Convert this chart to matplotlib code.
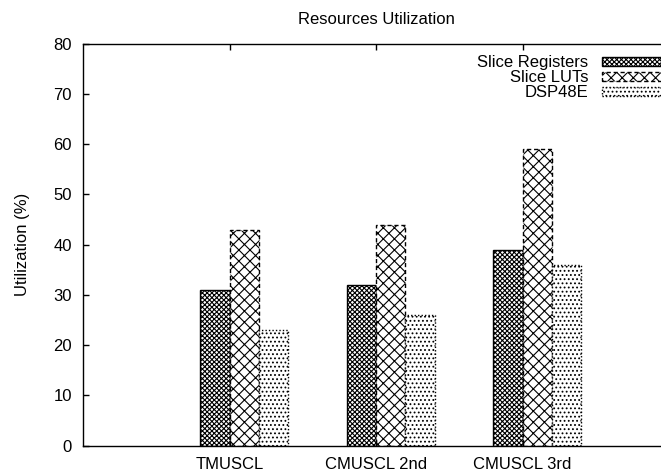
import numpy as np
import matplotlib
matplotlib.use("Agg")
import matplotlib.pyplot as plt

plt.rcParams['font.family'] = ['Liberation Sans', 'DejaVu Sans']
plt.rcParams['hatch.linewidth'] = 0.8

# values
categories = ["TMUSCL", "CMUSCL 2nd", "CMUSCL 3rd"]
series_names = ["Slice Registers", "Slice LUTs", "DSP48E"]
slice_registers = [31, 32, 39]
slice_luts = [43, 44, 59]
dsp48e = [23, 26, 36]

# gnuplot-ish fill patterns
hatches = ["xxxxxxx", "xxx", "...."]
edge_styles = ["solid", (0, (3, 2)), (0, (1, 1.5))]

fig = plt.figure(figsize=(6.61, 4.72), dpi=100)
# right border sits just past the image edge, as in the original
ax = fig.add_axes([83 / 661, 1 - 445.5 / 472, 586 / 661, 401.8 / 472])

x = np.arange(len(categories))
width = 0.2
offsets = [-0.1, 0.1, 0.3]
for vals, name, off, h, ls in zip([slice_registers, slice_luts, dsp48e],
                                  series_names, offsets, hatches, edge_styles):
    ax.bar(x + off, vals, width, label=name, facecolor="white",
           edgecolor="black", hatch=h, linestyle=ls, linewidth=1.0)

ax.set_xlim(-1, 3)
ax.set_ylim(0, 80)
ax.set_yticks(range(0, 81, 10))
ax.set_xticks(x)
ax.set_xticklabels(categories)

for s in ax.spines.values():
    s.set_linewidth(1.0)
ax.spines['right'].set_visible(False)

ax.tick_params(axis='y', direction='in', length=4.5, width=1.0, pad=8,
               labelsize=12, right=False)
ax.tick_params(axis='x', direction='in', length=4, width=1.0, pad=8,
               labelsize=12, top=True)

ax.set_ylabel("Utilization (%)", fontsize=12)
ax.yaxis.set_label_coords(-0.09, 0.5)
ax.set_title("Resources Utilization", fontsize=12, pad=14)

ax.legend(loc='upper right', bbox_to_anchor=(685 / 661, 1 - 55 / 472),
          bbox_transform=fig.transFigure, frameon=False, markerfirst=False,
          fontsize=12, labelspacing=0.0, handlelength=5.0, handleheight=0.45,
          handletextpad=0.8, borderpad=0, borderaxespad=0)

fig.savefig("out.png", dpi=100)
